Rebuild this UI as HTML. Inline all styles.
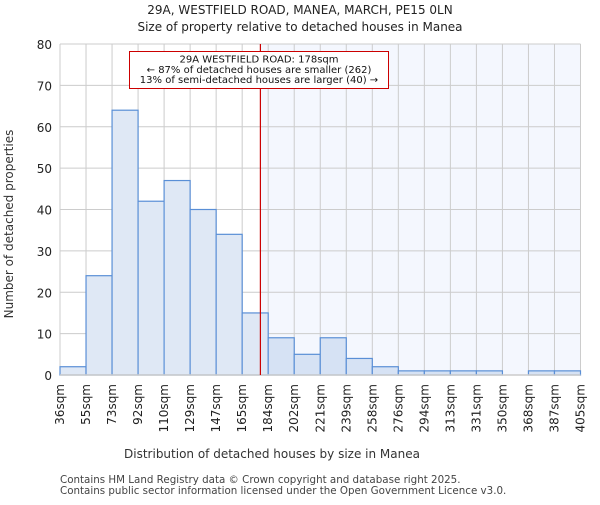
<!DOCTYPE html>
<html><head><meta charset="utf-8"><style>body{margin:0;background:#fff}svg{font-family:"DejaVu Sans","Liberation Sans",sans-serif}</style></head>
<body>
<svg width="600" height="500" xmlns="http://www.w3.org/2000/svg">
<text x="300" y="14" text-anchor="middle" font-size="12" fill="#222">29A, WESTFIELD ROAD, MANEA, MARCH, PE15 0LN</text>
<text x="300" y="31" text-anchor="middle" font-size="12" fill="#222">Size of property relative to detached houses in Manea</text>
<g id="plot"></g>
<text x="272" y="458" text-anchor="middle" font-size="12" fill="#333">Distribution of detached houses by size in Manea</text>
<text transform="translate(13,224) rotate(-90)" text-anchor="middle" font-size="12" fill="#333">Number of detached properties</text>
<text x="60" y="483" font-size="10.3" fill="#444">Contains HM Land Registry data © Crown copyright and database right 2025.</text>
<text x="60" y="494" font-size="10.3" fill="#444">Contains public sector information licensed under the Open Government Licence v3.0.</text>
</svg>
<script>
const categories=["36sqm","55sqm","73sqm","92sqm","110sqm","129sqm","147sqm","165sqm","184sqm","202sqm","221sqm","239sqm","258sqm","276sqm","294sqm","313sqm","331sqm","350sqm","368sqm","387sqm","405sqm"];
const counts=[2,24,64,42,47,40,34,15,9,5,9,4,2,1,1,1,1,0,1,1];
const yTicks=[0,10,20,30,40,50,60,70,80];
const markerBin=7.7;
const annotationLines=["29A WESTFIELD ROAD: 178sqm","← 87% of detached houses are smaller (262)","13% of semi-detached houses are larger (40) →"];
const NS="http://www.w3.org/2000/svg";
const X0=60,X1=580.5,Y0=375,Y1=44,yMax=80;
const bw=(X1-X0)/counts.length;
const xs=i=>X0+i*bw, ys=v=>Y0-(v/yMax)*(Y0-Y1);
const g=document.getElementById('plot');
function mk(t,a){const e=document.createElementNS(NS,t);for(const k in a)e.setAttribute(k,a[k]);g.appendChild(e);return e;}
const mx=xs(markerBin);
let e=mk('rect',{x:mx,y:Y1,width:X1-mx,height:Y0-Y1,fill:'#f4f7fe'});


for(let i=0;i<=counts.length;i++){e=mk('line',{x1:xs(i),x2:xs(i),y1:Y1,y2:Y0,stroke:'#ccc','stroke-width':1});

}
yTicks.forEach(v=>{e=mk('line',{x1:X0,x2:X1,y1:ys(v),y2:ys(v),stroke:'#ccc','stroke-width':1});


e=mk('text',{x:X0-8,y:ys(v)+5,'text-anchor':'end','font-size':12,fill:'#222'});e.textContent=v;

});
counts.forEach((c,i)=>{if(c<=0)return;e=mk('rect',{x:xs(i),y:ys(c),width:bw,height:Y0-ys(c),fill:i>=8?'#d6e2f4':'#dfe8f5',stroke:'#5a8fd6','stroke-width':1.2});

});
e=mk('line',{x1:X0,x2:X1,y1:Y0,y2:Y0,stroke:'#ccc','stroke-width':1.5});


categories.forEach((c,i)=>{e=mk('text',{transform:`translate(${xs(i)+4},384) rotate(-90)`,'text-anchor':'end','font-size':12,fill:'#222'});e.textContent=c;

});
e=mk('line',{x1:mx,x2:mx,y1:Y1,y2:Y0,stroke:'#cc0000','stroke-width':1.2});


e=mk('rect',{x:129.5,y:51.5,width:259,height:37,fill:'#fff',stroke:'#cc0000','stroke-width':1});


annotationLines.forEach((t,i)=>{e=mk('text',{x:259,y:62.5+i*10.3,'text-anchor':'middle','font-size':10,fill:'#111'});e.textContent=t;

});
</script>
</body></html>
